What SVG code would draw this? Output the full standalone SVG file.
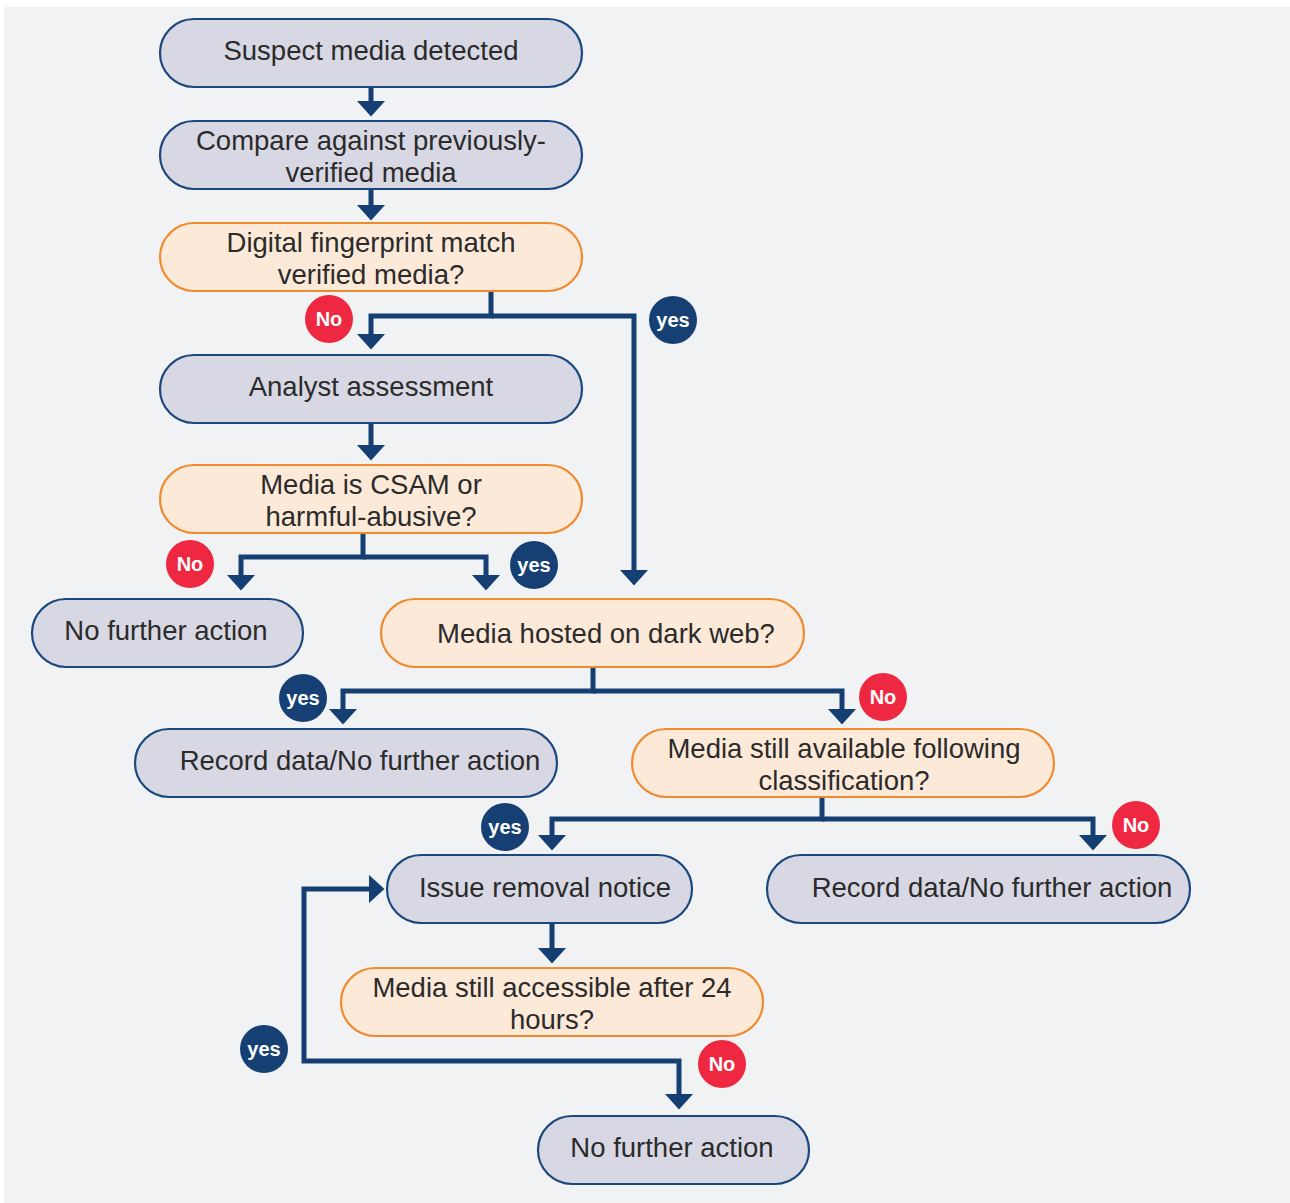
<svg xmlns="http://www.w3.org/2000/svg" width="1290" height="1203" viewBox="0 0 1290 1203">
  <style>
    .proc rect { fill: #D8D8E4; stroke: #1B477D; stroke-width: 2.2; }
    .dec rect { fill: #FDE9D8; stroke: #EF8A2E; stroke-width: 2.2; }
    .lbl { font-family: "Liberation Sans", Arial, sans-serif; font-size: 27.5px; fill: #2B2B2B; text-anchor: middle; }
    .conn path { fill: none; stroke: #153F73; stroke-width: 5; stroke-linejoin: miter; stroke-linecap: butt; }
    .badge text { font-family: "Liberation Sans", Arial, sans-serif; font-size: 20px; font-weight: bold; fill: #FFFFFF; text-anchor: middle; }
    .no circle { fill: #EE2840; }
    .yes circle { fill: #163F73; }
  </style>
  <defs>
    <marker id="head" markerUnits="userSpaceOnUse" viewBox="0 0 16 29" refX="0.5" refY="14.5" markerWidth="16" markerHeight="29" orient="auto-start-reverse">
      <path d="M0,0 L16,14.5 L0,29 Z" fill="#153F73"/>
    </marker>
  </defs>

  <!-- backdrop panel -->
  <rect x="0" y="0" width="1290" height="1203" fill="#FFFFFF"/>
  <rect x="4" y="7" width="1286" height="1196" fill="#F1F2F4"/>

  <!-- connectors -->
  <g id="connectors" class="conn">
    <path d="M371,87 V101" marker-end="url(#head)"/>
    <path d="M371,189 V205" marker-end="url(#head)"/>
    <path d="M491,291 V316 H371 V334" marker-end="url(#head)"/>
    <path d="M491,316 H634 V570" marker-end="url(#head)"/>
    <path d="M371,423 V445" marker-end="url(#head)"/>
    <path d="M363,533 V557 H241 V575" marker-end="url(#head)"/>
    <path d="M363,557 H486 V575" marker-end="url(#head)"/>
    <path d="M593,667 V691 H343 V709" marker-end="url(#head)"/>
    <path d="M593,691 H842 V709" marker-end="url(#head)"/>
    <path d="M822,797 V819 H552 V835" marker-end="url(#head)"/>
    <path d="M822,819 H1093 V835" marker-end="url(#head)"/>
    <path d="M552,923 V948" marker-end="url(#head)"/>
    <path d="M369,889 H304 V1061 H679 V1094" marker-start="url(#head)" marker-end="url(#head)"/>
  </g>

  <!-- nodes -->
  <g id="n-suspect" class="proc">
    <rect x="160" y="19" width="422" height="68" rx="34"/>
    <text class="lbl" x="371" y="60">Suspect media detected</text>
  </g>
  <g id="n-compare" class="proc">
    <rect x="160" y="121" width="422" height="68" rx="34"/>
    <text class="lbl" x="371" y="150">Compare against previously-</text>
    <text class="lbl" x="371" y="182">verified media</text>
  </g>
  <g id="n-fingerprint" class="dec">
    <rect x="160" y="223" width="422" height="68" rx="34"/>
    <text class="lbl" x="371" y="252">Digital fingerprint match</text>
    <text class="lbl" x="371" y="284">verified media?</text>
  </g>
  <g id="n-analyst" class="proc">
    <rect x="160" y="355" width="422" height="68" rx="34"/>
    <text class="lbl" x="371" y="396">Analyst assessment</text>
  </g>
  <g id="n-csam" class="dec">
    <rect x="160" y="465" width="422" height="68" rx="34"/>
    <text class="lbl" x="371" y="494">Media is CSAM or</text>
    <text class="lbl" x="371" y="526">harmful-abusive?</text>
  </g>
  <g id="n-nfa1" class="proc">
    <rect x="32" y="599" width="271" height="68" rx="34"/>
    <text class="lbl" x="166" y="640">No further action</text>
  </g>
  <g id="n-darkweb" class="dec">
    <rect x="381" y="599" width="423" height="68" rx="34"/>
    <text class="lbl" x="606" y="643">Media hosted on dark web?</text>
  </g>
  <g id="n-record1" class="proc">
    <rect x="135" y="729" width="422" height="68" rx="34"/>
    <text class="lbl" x="360" y="770">Record data/No further action</text>
  </g>
  <g id="n-available" class="dec">
    <rect x="632" y="729" width="422" height="68" rx="34"/>
    <text class="lbl" x="844" y="758">Media still available following</text>
    <text class="lbl" x="844" y="790">classification?</text>
  </g>
  <g id="n-notice" class="proc">
    <rect x="387" y="855" width="305" height="68" rx="34"/>
    <text class="lbl" x="545" y="897">Issue removal notice</text>
  </g>
  <g id="n-record2" class="proc">
    <rect x="767" y="855" width="423" height="68" rx="34"/>
    <text class="lbl" x="992" y="897">Record data/No further action</text>
  </g>
  <g id="n-accessible" class="dec">
    <rect x="341" y="968" width="422" height="68" rx="34"/>
    <text class="lbl" x="552" y="997">Media still accessible after 24</text>
    <text class="lbl" x="552" y="1029">hours?</text>
  </g>
  <g id="n-nfa2" class="proc">
    <rect x="538" y="1116" width="271" height="68" rx="34"/>
    <text class="lbl" x="672" y="1157">No further action</text>
  </g>

  <!-- branch badges -->
  <g id="badges" class="badge">
    <g class="no"><circle cx="329" cy="319" r="24"/><text x="329" y="326">No</text></g>
    <g class="yes"><circle cx="673" cy="320" r="24"/><text x="673" y="327">yes</text></g>
    <g class="no"><circle cx="190" cy="564" r="24"/><text x="190" y="571">No</text></g>
    <g class="yes"><circle cx="534" cy="565" r="24"/><text x="534" y="572">yes</text></g>
    <g class="yes"><circle cx="303" cy="698" r="24"/><text x="303" y="705">yes</text></g>
    <g class="no"><circle cx="883" cy="697" r="24"/><text x="883" y="704">No</text></g>
    <g class="yes"><circle cx="505" cy="827" r="24"/><text x="505" y="834">yes</text></g>
    <g class="no"><circle cx="1136" cy="825" r="24"/><text x="1136" y="832">No</text></g>
    <g class="yes"><circle cx="264" cy="1049" r="24"/><text x="264" y="1056">yes</text></g>
    <g class="no"><circle cx="722" cy="1064" r="24"/><text x="722" y="1071">No</text></g>
  </g>
</svg>
